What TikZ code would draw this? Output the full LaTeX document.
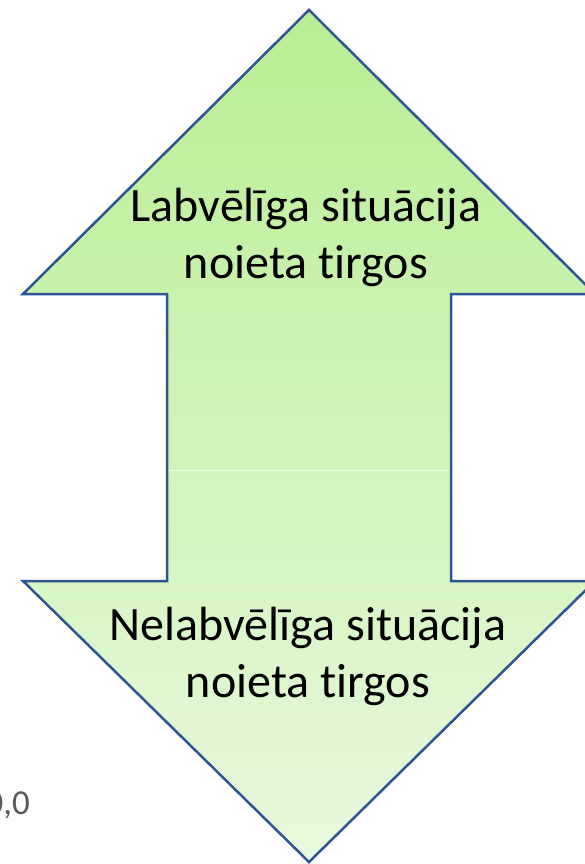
\documentclass[tikz,border=0pt]{standalone}
\usepackage{fontspec}
\setmainfont{Carlito}[Ligatures=NoCommon]
\definecolor{gtop}{HTML}{B9EE93}
\definecolor{gbot}{HTML}{E8F9DE}
\definecolor{edge}{HTML}{2F5597}
\definecolor{note}{HTML}{595959}
\tikzset{
  arrowtext/.style={align=center, font=\fontsize{48}{57}\selectfont, text=black, inner sep=0pt},
  outline/.style={draw=edge, line width=2.5pt, line join=miter},
}
\begin{document}
\begin{tikzpicture}[x=1pt, y=-1pt]
\useasboundingbox (0,0) rectangle (585,864);
\clip (0,0) rectangle (585,864);
\fill[white] (0,0) rectangle (585,864);
% filled union of both arrows
\shade[top color=gtop, bottom color=gbot]
  (309,10) -- (595,294) -- (451,294) -- (451,581) -- (595,581) -- (309,862)
  -- (23,581) -- (167,581) -- (167,294) -- (23,294) -- cycle;
% faint seam between the two arrows
\draw[white, opacity=0.7, line width=0.8pt] (168,470) -- (450,470);
% outline
\draw[outline]
  (309,10) -- (595,294) -- (451,294) -- (451,581) -- (595,581) -- (309,862)
  -- (23,581) -- (167,581) -- (167,294) -- (23,294) -- cycle;
\node[arrowtext] (up) at (306,237) {Labvēlīga situācija\\noieta tirgos};
\node[arrowtext] (down) at (308,656) {Nelabvēlīga situācija\\noieta tirgos};
\node[anchor=base east, inner sep=0pt, text=note, font=\fontsize{35}{42}\selectfont] (zero) at (30,814) {0,0};
\end{tikzpicture}
\end{document}
